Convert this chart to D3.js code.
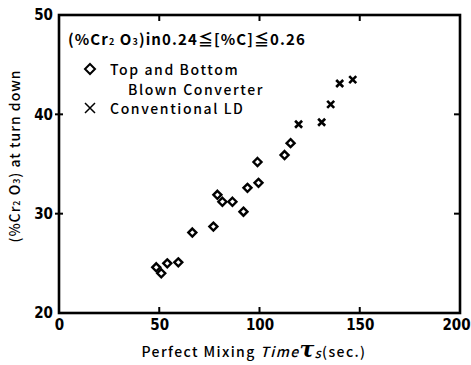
<!DOCTYPE html>
<html>
<head>
<meta charset="utf-8">
<script src="https://cdn.jsdelivr.net/npm/d3@7"></script>
<style>
  html, body { margin: 0; padding: 0; background: #fff; }
  svg { display: block; font-family: "Noto Sans CJK JP", "DejaVu Sans", sans-serif; }
  .tick text { font-family: "DejaVu Sans Condensed", "DejaVu Sans", sans-serif; font-stretch: condensed; }
</style>
</head>
<body>
<svg id="chart" width="471" height="365"></svg>
<script>
// Perfect mixing time (s) vs. (%Cr2O3) at turn down
const tbTime = [48.5, 51, 54, 59.5, 66.5, 77, 79, 81.5, 86.5, 92, 94, 99.5, 99, 112.5, 115.5];
const tbCr2O3 = [24.6, 24.0, 25.0, 25.1, 28.1, 28.7, 31.9, 31.2, 31.2, 30.2, 32.6, 33.1, 35.2, 35.9, 37.1];
const ldTime = [119.5, 131, 135.5, 140, 146.5];
const ldCr2O3 = [39.0, 39.2, 41.0, 43.1, 43.5];
const xTicks = [0, 50, 100, 150, 200];
const yTicks = [20, 30, 40, 50];

const svg = d3.select("#chart");
const m = { left: 59, right: 460, top: 15, bottom: 313 };

const x = d3.scaleLinear().domain([0, 200]).range([m.left, m.right]);
const y = d3.scaleLinear().domain([20, 50]).range([m.bottom, m.top]);

// frame
svg.append("rect")
  .attr("x", m.left).attr("y", m.top)
  .attr("width", m.right - m.left).attr("height", m.bottom - m.top)
  .attr("fill", "none").attr("stroke", "#000").attr("stroke-width", 2.6);

// axes
const bottomAxis = d3.axisBottom(x).tickValues(xTicks).tickSize(0).tickPadding(6);
svg.append("g").attr("transform", `translate(0,${m.bottom})`).call(bottomAxis)
  .call(g => g.select(".domain").remove())
  .call(g => g.selectAll("text").attr("font-size", 15).attr("font-weight", 700).attr("fill", "#000")
    .attr("dx", d => d === 200 ? -4 : 0));

const leftAxis = d3.axisLeft(y).tickValues(yTicks).tickSize(0).tickPadding(6);
svg.append("g").attr("transform", `translate(${m.left},0)`).call(leftAxis)
  .call(g => g.select(".domain").remove())
  .call(g => g.selectAll("text").attr("font-size", 15).attr("font-weight", 700).attr("fill", "#000"));

// small tick marks on the frame
const tk = svg.append("g").attr("stroke", "#000").attr("stroke-width", 2);
xTicks.filter(v => v > 0 && v < 200).forEach(v => {
  tk.append("line").attr("x1", x(v)).attr("x2", x(v)).attr("y1", m.bottom).attr("y2", m.bottom - 6);
  tk.append("line").attr("x1", x(v)).attr("x2", x(v)).attr("y1", m.top).attr("y2", m.top + 6);
});
yTicks.filter(v => v > 20 && v < 50).forEach(v => {
  tk.append("line").attr("x1", m.left - 4).attr("x2", m.left + 4).attr("y1", y(v)).attr("y2", y(v));
  tk.append("line").attr("x1", m.right).attr("x2", m.right - 6).attr("y1", y(v)).attr("y2", y(v));
});

// diamonds: top and bottom blown converter
const diamond = (cx, cy, r) => `M${cx},${cy - r}L${cx + r},${cy}L${cx},${cy + r}L${cx - r},${cy}Z`;
svg.append("g").selectAll("path").data(tbTime).join("path")
  .attr("d", (d, i) => diamond(x(d), y(tbCr2O3[i]), 4))
  .attr("fill", "#fff").attr("stroke", "#000").attr("stroke-width", 2.4);

// crosses: conventional LD
const cross = (cx, cy, r) => `M${cx - r},${cy - r}L${cx + r},${cy + r}M${cx - r},${cy + r}L${cx + r},${cy - r}`;
svg.append("g").selectAll("path").data(ldTime).join("path")
  .attr("d", (d, i) => cross(x(d), y(ldCr2O3[i]), 3.5))
  .attr("fill", "none").attr("stroke", "#000").attr("stroke-width", 2.6);

// condition note
const note = svg.append("text").attr("x", 68).attr("y", 45)
  .attr("font-size", 15).attr("font-weight", 700).attr("fill", "#000").attr("letter-spacing", 1.1);
note.append("tspan").text("(%Cr");
note.append("tspan").attr("font-size", 9).text("2");
note.append("tspan").text(" O");
note.append("tspan").attr("font-size", 9).text("3");
note.append("tspan").text(")in0.24≦[%C]≦0.26");

// legend
const legendText = (tx, ty, s) => svg.append("text").attr("x", tx).attr("y", ty)
  .attr("font-size", 14).attr("font-weight", 500).attr("fill", "#000")
  .attr("letter-spacing", 1.6).text(s);
svg.append("path").attr("d", diamond(90, 69, 5))
  .attr("fill", "#fff").attr("stroke", "#000").attr("stroke-width", 2);
legendText(110, 75, "Top and Bottom");
legendText(128, 95, "Blown Converter");
svg.append("path").attr("d", cross(90, 108, 5))
  .attr("fill", "none").attr("stroke", "#000").attr("stroke-width", 1.5);
legendText(110, 114, "Conventional LD");

// x-axis title
const xt = svg.append("text").attr("x", 254).attr("y", 357).attr("text-anchor", "middle")
  .attr("font-size", 14).attr("font-weight", 500).attr("fill", "#000").attr("letter-spacing", 1.4);
xt.append("tspan").text("Perfect  Mixing  ");
xt.append("tspan").attr("font-style", "italic").text("Time");
xt.append("tspan").attr("font-style", "italic").attr("font-weight", 700).attr("font-size", 22)
  .attr("font-family", "DejaVu Serif, serif").attr("letter-spacing", 0).text("τ");
xt.append("tspan").attr("font-style", "italic").attr("font-size", 13).attr("dy", 1).text("s");
xt.append("tspan").attr("dy", -1).text("(sec.)");

// y-axis title
const yt = svg.append("text").attr("transform", "translate(20,156) rotate(-90)")
  .attr("text-anchor", "middle").attr("font-size", 14).attr("font-weight", 500)
  .attr("fill", "#000").attr("letter-spacing", 1.0);
yt.append("tspan").text("(%Cr");
yt.append("tspan").attr("font-size", 9).text("2");
yt.append("tspan").text(" O");
yt.append("tspan").attr("font-size", 9).text("3");
yt.append("tspan").text(")  at  turn  down");
</script>
</body>
</html>
